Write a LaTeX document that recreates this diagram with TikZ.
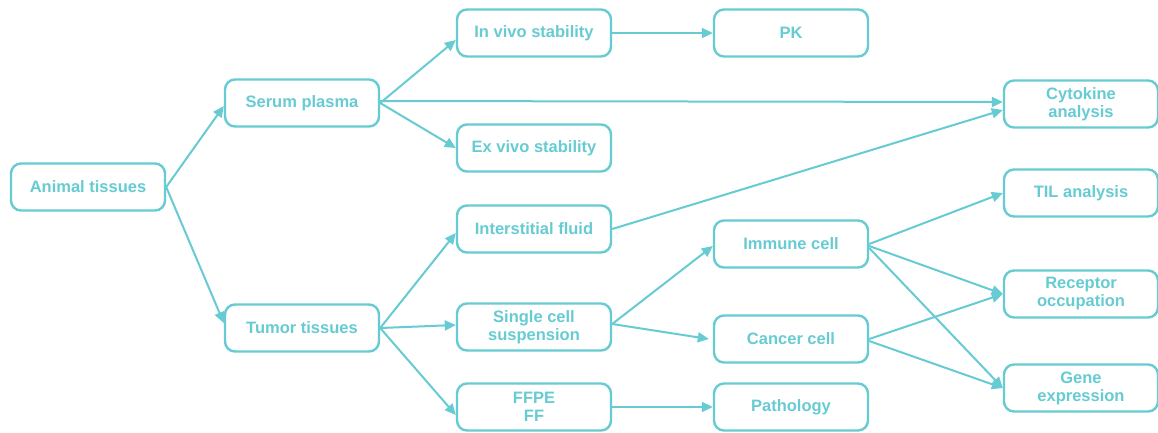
\documentclass[tikz,border=0pt]{standalone}
\usepackage{fontspec}
\setmainfont{Liberation Sans}
\usetikzlibrary{arrows.meta}
\definecolor{teal}{RGB}{102,203,210}
\tikzset{
  box/.style={draw=teal, line width=2.4pt, rounded corners=10pt, minimum width=154pt, minimum height=47pt, text=teal, font=\fontsize{16.5}{18}\selectfont\bfseries, align=center, inner sep=0pt},
  arr/.style={draw=teal, line width=2pt, -{Triangle[length=11pt,width=10pt]}},
}
\begin{document}
\begin{tikzpicture}[x=1pt,y=-1pt]
\useasboundingbox (0,0) rectangle (1158,432);
\fill[white] (0,0) rectangle (1158,432);
\node[box] (animal) at (88,187) {Animal tissues};
\node[box] (serum) at (302,103) {Serum plasma};
\node[box] (tumor) at (302,328) {Tumor tissues};
\node[box] (invivo) at (534,33) {In vivo stability};
\node[box] (exvivo) at (534,148) {Ex vivo stability};
\node[box] (inter) at (534,229) {Interstitial fluid};
\node[box] (single) at (534,327) {Single cell\\suspension};
\node[box] (ffpe) at (534,407) {FFPE\\FF};
\node[box] (pk) at (791,33) {PK};
\node[box] (immune) at (791,244) {Immune cell};
\node[box] (cancer) at (791,339) {Cancer cell};
\node[box] (path) at (791,407) {Pathology};
\node[box] (cyto) at (1081,104) {Cytokine\\analysis};
\node[box] (til) at (1081,193) {TIL analysis};
\node[box] (rec) at (1081,294) {Receptor\\occupation};
\node[box] (gene) at (1081,388) {Gene\\expression};

\draw[arr] (animal.east) -- ([yshift=-3pt]serum.west);
\draw[arr] (animal.east) -- ([yshift=5pt]tumor.west);
\draw[arr] (serum.east) -- ([yshift=-7pt]invivo.west);
\draw[arr] ([yshift=2pt]serum.east) -- ([yshift=2pt]cyto.west);
\draw[arr] (serum.east) -- (exvivo.west);
\draw[arr] (invivo.east) -- (pk.west);
\draw[arr] (inter.east) -- ([yshift=-6pt]cyto.west);
\draw[arr] (tumor.east) -- ([yshift=-4pt]inter.west);
\draw[arr] (tumor.east) -- ([yshift=2pt]single.west);
\draw[arr] (tumor.east) -- ([yshift=-8pt]ffpe.west);
\draw[arr] ([yshift=3pt]single.east) -- ([yshift=-2pt]immune.west);
\draw[arr] ([yshift=3pt]single.east) -- ([xshift=-4pt]cancer.west);
\draw[arr] (ffpe.east) -- (path.west);
\draw[arr] (immune.east) -- (til.west);
\draw[arr] ([yshift=-2pt]immune.east) -- (rec.west);
\draw[arr] ([yshift=-4pt]immune.east) -- (gene.west);
\draw[arr] (cancer.east) -- (rec.west);
\draw[arr] ([yshift=-2pt]cancer.east) -- (gene.west);
\end{tikzpicture}
\end{document}
